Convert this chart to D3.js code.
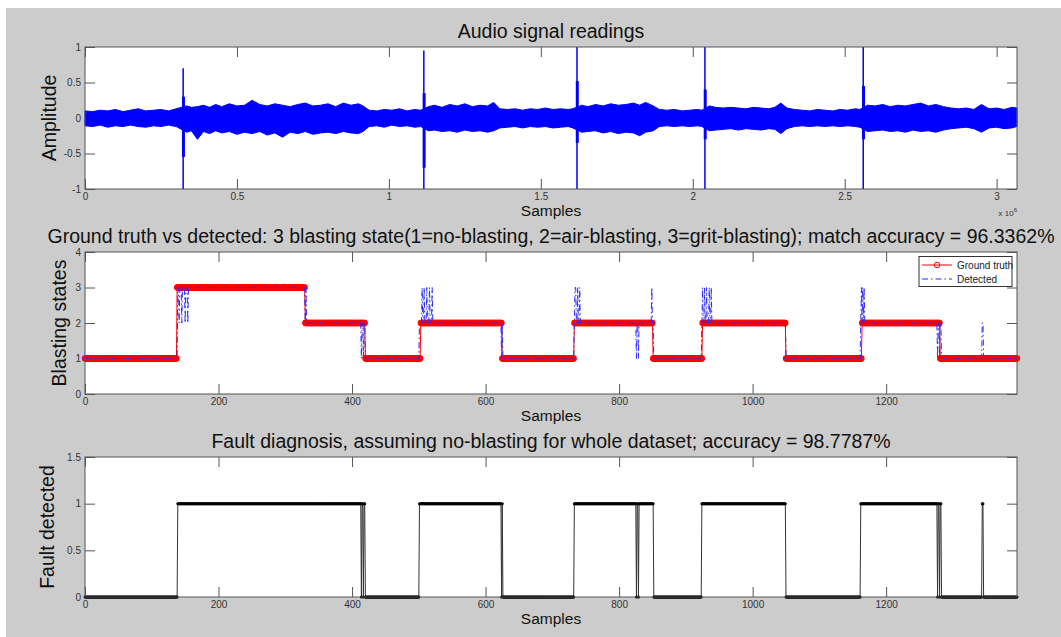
<!DOCTYPE html>
<html>
<head>
<meta charset="utf-8">
<script src="https://cdn.jsdelivr.net/npm/d3@7/dist/d3.min.js"></script>
<style>
  body { margin: 0; background: #fff; }
  text { font-family: "Liberation Sans", Arial, sans-serif; }
</style>
</head>
<body>
<svg id="chart"></svg>
<script>
// audio band: [sample x 10^6, upper, lower]
var audioEnvelope = [
  [0.000, 0.10, -0.11], [0.025, 0.09, -0.12], [0.050, 0.11, -0.10], [0.075, 0.10, -0.13],
  [0.100, 0.12, -0.11], [0.125, 0.09, -0.12], [0.150, 0.11, -0.10], [0.175, 0.13, -0.12],
  [0.200, 0.10, -0.13], [0.225, 0.11, -0.11], [0.250, 0.12, -0.12], [0.275, 0.10, -0.10],
  [0.300, 0.13, -0.12], [0.335, 0.17, -0.20], [0.350, 0.15, -0.18], [0.370, 0.16, -0.30],
  [0.390, 0.18, -0.19], [0.410, 0.15, -0.22], [0.430, 0.19, -0.18], [0.450, 0.16, -0.21],
  [0.475, 0.20, -0.19], [0.500, 0.17, -0.23], [0.525, 0.18, -0.20], [0.550, 0.25, -0.22],
  [0.575, 0.19, -0.19], [0.600, 0.17, -0.24], [0.625, 0.20, -0.21], [0.650, 0.18, -0.27],
  [0.675, 0.16, -0.20], [0.700, 0.19, -0.22], [0.725, 0.21, -0.19], [0.750, 0.17, -0.23],
  [0.775, 0.18, -0.21], [0.800, 0.20, -0.20], [0.825, 0.16, -0.22], [0.850, 0.21, -0.19],
  [0.875, 0.18, -0.21], [0.900, 0.20, -0.22], [0.915, 0.17, -0.19], [0.935, 0.11, -0.12],
  [0.960, 0.10, -0.11], [0.985, 0.12, -0.13], [1.010, 0.11, -0.10], [1.035, 0.13, -0.12],
  [1.060, 0.10, -0.11], [1.085, 0.12, -0.13], [1.105, 0.11, -0.12], [1.130, 0.16, -0.18],
  [1.150, 0.18, -0.17], [1.175, 0.15, -0.19], [1.200, 0.19, -0.18], [1.225, 0.17, -0.20],
  [1.250, 0.20, -0.17], [1.275, 0.16, -0.19], [1.300, 0.18, -0.18], [1.325, 0.17, -0.20],
  [1.345, 0.22, -0.18], [1.365, 0.13, -0.14], [1.390, 0.12, -0.13], [1.415, 0.13, -0.12],
  [1.440, 0.11, -0.14], [1.465, 0.13, -0.12], [1.490, 0.12, -0.13], [1.515, 0.14, -0.12],
  [1.540, 0.12, -0.14], [1.565, 0.13, -0.13], [1.590, 0.12, -0.12], [1.605, 0.13, -0.14],
  [1.635, 0.18, -0.20], [1.655, 0.16, -0.19], [1.680, 0.19, -0.18], [1.705, 0.17, -0.21],
  [1.730, 0.20, -0.19], [1.755, 0.18, -0.22], [1.780, 0.19, -0.20], [1.805, 0.21, -0.21],
  [1.825, 0.18, -0.25], [1.845, 0.22, -0.20], [1.870, 0.17, -0.18], [1.890, 0.12, -0.12],
  [1.915, 0.11, -0.11], [1.940, 0.12, -0.12], [1.965, 0.10, -0.11], [1.990, 0.11, -0.12],
  [2.015, 0.12, -0.11], [2.030, 0.11, -0.12], [2.055, 0.17, -0.18], [2.075, 0.15, -0.17],
  [2.100, 0.14, -0.16], [2.125, 0.15, -0.15], [2.150, 0.14, -0.17], [2.175, 0.13, -0.15],
  [2.200, 0.15, -0.16], [2.225, 0.14, -0.17], [2.250, 0.13, -0.15], [2.270, 0.15, -0.16],
  [2.290, 0.21, -0.22], [2.310, 0.14, -0.15], [2.335, 0.12, -0.12], [2.360, 0.11, -0.11],
  [2.385, 0.10, -0.12], [2.410, 0.12, -0.11], [2.435, 0.11, -0.12], [2.460, 0.10, -0.11],
  [2.485, 0.12, -0.12], [2.510, 0.11, -0.11], [2.535, 0.13, -0.12], [2.550, 0.12, -0.13],
  [2.575, 0.18, -0.19], [2.600, 0.17, -0.18], [2.625, 0.19, -0.17], [2.650, 0.16, -0.19],
  [2.675, 0.18, -0.18], [2.700, 0.17, -0.20], [2.725, 0.19, -0.17], [2.750, 0.21, -0.19],
  [2.775, 0.17, -0.18], [2.800, 0.19, -0.20], [2.825, 0.16, -0.17], [2.850, 0.14, -0.15],
  [2.875, 0.13, -0.14], [2.900, 0.14, -0.13], [2.925, 0.12, -0.15], [2.950, 0.19, -0.20],
  [2.975, 0.13, -0.14], [3.000, 0.14, -0.13], [3.025, 0.12, -0.15], [3.050, 0.15, -0.14],
  [3.067, 0.14, -0.12]
];
// the five impulses, thin peak and the thicker burst round it
var spikePeaks = [[0.323, 0.70, -1.0], [1.115, 0.95, -1.0], [1.619, 1.0, -1.0], [2.040, 1.0, -1.0], [2.561, 1.0, -1.0]];
var spikeBursts = [[0.324, 0.30, -0.55], [1.116, 0.35, -0.70], [1.620, 0.52, -0.35], [2.041, 0.40, -0.30], [2.562, 0.45, -0.30]];
var audioXMax = 3.067;
var audioXTicks = [0, 0.5, 1, 1.5, 2, 2.5, 3];
var audioYTicks = [-1, -0.5, 0, 0.5, 1];

// states per frame as runs: [first frame, value]
var frameCount = 1396;
var groundTruthRuns = [[0, 1], [138, 3], [330, 2], [420, 1], [503, 2], [625, 1], [733, 2], [851, 1],
  [925, 2], [1050, 1], [1164, 2], [1281, 1]];
var detectedRuns = [[0, 1], [139, 3], [141, 2], [142, 3], [145, 2], [146, 3], [150, 2], [151, 3],
  [154, 2], [155, 3], [330, 2], [331, 3], [332, 2], [414, 1], [415, 2], [417, 1], [418, 2], [420, 1],
  [501, 2], [505, 3], [506, 2], [508, 3], [509, 2], [512, 3], [513, 2], [516, 3], [517, 2], [520, 3],
  [521, 2], [624, 1], [625, 2], [626, 1], [733, 2], [734, 3], [736, 2], [738, 3], [739, 2], [741, 3],
  [742, 2], [826, 1], [827, 2], [829, 1], [830, 2], [849, 3], [850, 2], [852, 1], [924, 2], [925, 3],
  [926, 2], [928, 3], [929, 2], [931, 3], [932, 2], [935, 3], [936, 2], [938, 3], [939, 2], [1050, 1],
  [1162, 2], [1163, 3], [1164, 2], [1165, 3], [1166, 2], [1167, 3], [1168, 2], [1277, 1], [1278, 2],
  [1280, 1], [1281, 2], [1283, 1], [1344, 2], [1346, 1]];
var faultRuns = [[0, 0], [139, 1], [414, 0], [415, 1], [417, 0], [418, 1], [420, 0], [501, 1], [624, 0],
  [625, 1], [626, 0], [733, 1], [826, 0], [827, 1], [829, 0], [830, 1], [852, 0], [924, 1], [1050, 0],
  [1162, 1], [1277, 0], [1278, 1], [1280, 0], [1281, 1], [1283, 0], [1344, 1], [1346, 0]];
var frameTicks = [0, 200, 400, 600, 800, 1000, 1200];
var stateYTicks = [0, 1, 2, 3, 4];
var faultYTicks = [0, 0.5, 1, 1.5];

var titles = [
  'Audio signal readings',
  'Ground truth vs detected: 3 blasting state(1=no-blasting, 2=air-blasting, 3=grit-blasting); match accuracy = 96.3362%',
  'Fault diagnosis, assuming no-blasting for whole dataset; accuracy = 98.7787%'
];
var yLabels = ['Amplitude', 'Blasting states', 'Fault detected'];
var legendNames = ['Ground truth', 'Detected'];

var W = 1061, H = 637, left = 85, right = 1017;

var svg = d3.select('#chart').attr('width', W).attr('height', H);
svg.append('rect').attr('width', W).attr('height', H).attr('fill', '#fff');
svg.append('rect').attr('x', 6).attr('y', 8).attr('width', W - 6).attr('height', H - 8).attr('fill', '#cccccc');

function expandRuns(runs, last) {
  var pts = [];
  runs.forEach(function(r, i) {
    var end = i < runs.length - 1 ? runs[i + 1][0] : last + 1;
    for (var f = r[0]; f < end; f++) pts.push([f, r[1]]);
  });
  return pts;
}

function panel(top, bottom, xDomain, yDomain, xTicks, yTicks, title, yLabel, labelX) {
  var x = d3.scaleLinear().domain(xDomain).range([left, right]);
  var y = d3.scaleLinear().domain(yDomain).range([bottom, top]);
  var g = svg.append('g');

  g.append('rect').attr('x', left).attr('y', top)
    .attr('width', right - left).attr('height', bottom - top)
    .attr('fill', '#fff');

  var fmt = function(d) { return d; };
  var axes = [
    [d3.axisBottom(x).tickValues(xTicks).tickFormat(fmt), 0, bottom],
    [d3.axisTop(x).tickValues(xTicks).tickFormat(''), 0, top],
    [d3.axisLeft(y).tickValues(yTicks).tickFormat(fmt), left, 0],
    [d3.axisRight(y).tickValues(yTicks).tickFormat(''), right, 0]
  ];
  axes.forEach(function(a) {
    var ag = g.append('g').attr('transform', 'translate(' + a[1] + ',' + a[2] + ')')
      .call(a[0].tickSize(-10).tickSizeOuter(0).tickPadding(4));
    ag.select('.domain').remove();
    ag.selectAll('line').attr('stroke', '#555');
    ag.selectAll('text').attr('fill', '#333').style('font-size', '10px')
      .style('font-family', '"Liberation Sans", Arial, sans-serif');
  });

  g.append('text').attr('x', (left + right) / 2).attr('y', top - 9.5)
    .attr('text-anchor', 'middle').style('font-size', '19.5px').attr('fill', '#111')
    .text(title);
  g.append('text').attr('x', (left + right) / 2).attr('y', bottom + 27)
    .attr('text-anchor', 'middle').style('font-size', '15.5px').attr('fill', '#111')
    .text('Samples');
  g.append('text').attr('transform', 'translate(' + labelX + ',' + ((top + bottom) / 2) + ') rotate(-90)')
    .attr('text-anchor', 'middle').attr('dy', '0.35em').style('font-size', '19.5px').attr('fill', '#111')
    .text(yLabel);

  return { g: g, x: x, y: y, top: top, bottom: bottom };
}

function frame(p) {
  p.g.append('rect').attr('x', left).attr('y', p.top)
    .attr('width', right - left).attr('height', p.bottom - p.top)
    .attr('fill', 'none').attr('stroke', '#555').attr('stroke-width', 1);
}

// --- audio
var p1 = panel(47, 189, [0, audioXMax], [-1, 1], audioXTicks, audioYTicks, titles[0], yLabels[0], 49);
p1.g.append('path').datum(audioEnvelope)
  .attr('d', d3.area().x(function(d) { return p1.x(d[0]); })
    .y0(function(d) { return p1.y(d[2]); }).y1(function(d) { return p1.y(d[1]); }))
  .attr('fill', '#0000ff').attr('stroke', '#0000ff').attr('stroke-width', 1);
p1.g.selectAll('line.burst').data(spikeBursts).enter().append('line')
  .attr('x1', function(d) { return p1.x(d[0]); }).attr('x2', function(d) { return p1.x(d[0]); })
  .attr('y1', function(d) { return p1.y(d[1]); }).attr('y2', function(d) { return p1.y(d[2]); })
  .attr('stroke', '#0000ff').attr('stroke-width', 3);
p1.g.selectAll('line.peak').data(spikePeaks).enter().append('line')
  .attr('x1', function(d) { return p1.x(d[0]); }).attr('x2', function(d) { return p1.x(d[0]); })
  .attr('y1', function(d) { return p1.y(d[1]); }).attr('y2', function(d) { return p1.y(d[2]); })
  .attr('stroke', '#0000ff').attr('stroke-width', 1.5);
frame(p1);
svg.append('text').attr('x', right).attr('y', 216).attr('text-anchor', 'end')
  .style('font-size', '8px').attr('fill', '#333')
  .text('x 10').append('tspan').attr('dy', -4).style('font-size', '6px').text('6');

// --- blasting states
var p2 = panel(252, 394, [0, frameCount], [0, 4], frameTicks, stateYTicks, titles[1], yLabels[1], 59);
var gt = expandRuns(groundTruthRuns, frameCount);
var det = expandRuns(detectedRuns, frameCount);
var line2 = d3.line().x(function(d) { return p2.x(d[0]); }).y(function(d) { return p2.y(d[1]); });
p2.g.append('path').datum(gt).attr('d', line2).attr('fill', 'none').attr('stroke', '#ff0000').attr('stroke-width', 1);
p2.g.selectAll('circle.gt').data(gt).enter().append('circle')
  .attr('cx', function(d) { return p2.x(d[0]); }).attr('cy', function(d) { return p2.y(d[1]); })
  .attr('r', 2.6).attr('fill', 'none').attr('stroke', '#ff0000').attr('stroke-width', 1.1);
p2.g.append('path').datum(det).attr('d', line2).attr('fill', 'none')
  .attr('stroke', '#2a2aff').attr('stroke-width', 1).attr('stroke-dasharray', '6,3,1.5,3');
frame(p2);

// legend
var lg = p2.g.append('g');
lg.append('rect').attr('x', 919).attr('y', 256.5).attr('width', 93).attr('height', 30)
  .attr('fill', '#fff').attr('stroke', '#333').attr('stroke-width', 1);
lg.append('line').attr('x1', 922).attr('x2', 952).attr('y1', 265).attr('y2', 265)
  .attr('stroke', '#ff0000').attr('stroke-width', 1);
lg.append('circle').attr('cx', 937).attr('cy', 265).attr('r', 2.8)
  .attr('fill', 'none').attr('stroke', '#ff0000').attr('stroke-width', 1);
lg.append('line').attr('x1', 922).attr('x2', 952).attr('y1', 279).attr('y2', 279)
  .attr('stroke', '#2a2aff').attr('stroke-width', 1).attr('stroke-dasharray', '6,3,1.5,3');
lg.selectAll('text').data(legendNames).enter().append('text')
  .attr('x', 957).attr('y', function(d, i) { return 268.5 + i * 14; })
  .style('font-size', '10px').attr('fill', '#222').text(function(d) { return d; });

// --- fault
var p3 = panel(457, 597, [0, frameCount], [0, 1.5], frameTicks, faultYTicks, titles[2], yLabels[2], 47);
var fault = expandRuns(faultRuns, frameCount);
var line3 = d3.line().x(function(d) { return p3.x(d[0]); }).y(function(d) { return p3.y(d[1]); });
p3.g.append('path').datum(fault).attr('d', line3).attr('fill', 'none').attr('stroke', '#333').attr('stroke-width', 1);
p3.g.selectAll('circle.f').data(fault).enter().append('circle')
  .attr('cx', function(d) { return p3.x(d[0]); }).attr('cy', function(d) { return p3.y(d[1]); })
  .attr('r', 1.5).attr('fill', '#000');
frame(p3);
</script>
</body>
</html>
